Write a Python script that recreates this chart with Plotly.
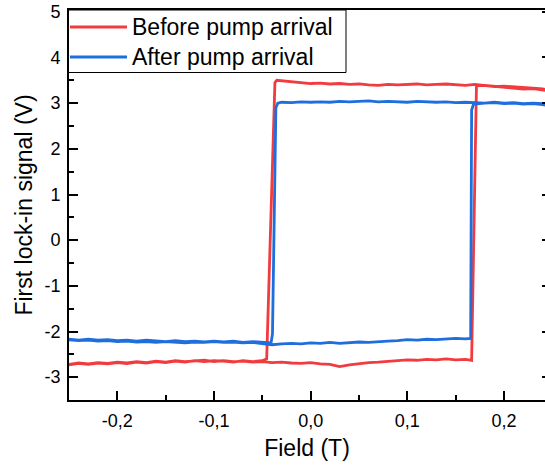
import plotly.graph_objects as go

# ---------------- data ----------------
# Red loop: "Before pump arrival"
RED_FIELD = [
    -0.25, -0.24, -0.23, -0.22, -0.21, -0.20, -0.19, -0.18, -0.17, -0.16,
    -0.15, -0.14, -0.13, -0.12, -0.11, -0.10, -0.09, -0.08, -0.07, -0.06,
    -0.05, -0.04, -0.03, -0.02, -0.01, 0.00, 0.01, 0.02, 0.03, 0.04,
    0.05, 0.06, 0.07, 0.08, 0.09, 0.10, 0.11, 0.12, 0.13, 0.14,
    0.15, 0.16, 0.1665, 0.1715,
    0.18, 0.19, 0.20, 0.21, 0.22, 0.23, 0.24, 0.2424,
    0.2424, 0.24, 0.23, 0.22, 0.21, 0.20, 0.19, 0.18, 0.17, 0.16,
    0.15, 0.14, 0.13, 0.12, 0.11, 0.10, 0.09, 0.08, 0.07, 0.06,
    0.05, 0.04, 0.03, 0.02, 0.01, 0.00, -0.01, -0.02, -0.03, -0.035,
    -0.037, -0.0455,
    -0.05, -0.06, -0.07, -0.08, -0.09, -0.10, -0.11, -0.12, -0.13, -0.14,
    -0.15, -0.16, -0.17, -0.18, -0.19, -0.20, -0.21, -0.22, -0.23, -0.24, -0.25,
]
RED_SIGNAL = [
    -2.72, -2.69, -2.71, -2.68, -2.70, -2.67, -2.69, -2.66, -2.68, -2.65,
    -2.67, -2.64, -2.66, -2.65, -2.63, -2.66, -2.64, -2.66, -2.65, -2.67,
    -2.66, -2.68, -2.67, -2.69, -2.70, -2.68, -2.71, -2.72, -2.77, -2.73,
    -2.70, -2.68, -2.67, -2.65, -2.64, -2.62, -2.63, -2.61, -2.62, -2.60,
    -2.62, -2.61, -2.63, 3.38,
    3.39, 3.37, 3.36, 3.34, 3.31, 3.32, 3.29, 3.28,
    3.30, 3.31, 3.33, 3.34, 3.35, 3.37, 3.36, 3.38, 3.41, 3.39,
    3.40, 3.42, 3.41, 3.40, 3.42, 3.41, 3.40, 3.41, 3.39, 3.40,
    3.42, 3.41, 3.43, 3.42, 3.44, 3.43, 3.45, 3.46, 3.49, 3.50,
    3.45, -2.60,
    -2.64, -2.66, -2.64, -2.67, -2.65, -2.64, -2.66, -2.64, -2.67, -2.65,
    -2.68, -2.66, -2.69, -2.67, -2.70, -2.68, -2.71, -2.69, -2.72, -2.70, -2.73,
]

# Blue loop: "After pump arrival"
BLUE_FIELD = [
    -0.25, -0.24, -0.23, -0.22, -0.21, -0.20, -0.19, -0.18, -0.17, -0.16,
    -0.15, -0.14, -0.13, -0.12, -0.11, -0.10, -0.09, -0.08, -0.07, -0.06,
    -0.05, -0.04, -0.03, -0.02, -0.01, 0.00, 0.01, 0.02, 0.03, 0.04,
    0.05, 0.06, 0.07, 0.08, 0.09, 0.10, 0.11, 0.12, 0.13, 0.14,
    0.15, 0.16, 0.1655, 0.1665, 0.1685,
    0.18, 0.19, 0.20, 0.21, 0.22, 0.23, 0.24, 0.2424,
    0.2424, 0.24, 0.23, 0.22, 0.21, 0.20, 0.19, 0.18, 0.17, 0.16,
    0.15, 0.14, 0.13, 0.12, 0.11, 0.10, 0.09, 0.08, 0.07, 0.06,
    0.05, 0.04, 0.03, 0.02, 0.01, 0.00, -0.01, -0.02, -0.03, -0.034,
    -0.036, -0.0395, -0.041,
    -0.05, -0.06, -0.07, -0.08, -0.09, -0.10, -0.11, -0.12, -0.13, -0.14,
    -0.15, -0.16, -0.17, -0.18, -0.19, -0.20, -0.21, -0.22, -0.23, -0.24, -0.25,
]
BLUE_SIGNAL = [
    -2.18, -2.20, -2.19, -2.21, -2.20, -2.22, -2.21, -2.23, -2.22, -2.24,
    -2.22, -2.23, -2.25, -2.23, -2.24, -2.22, -2.24, -2.23, -2.25, -2.24,
    -2.26, -2.29, -2.27, -2.26, -2.27, -2.25, -2.26, -2.24, -2.26, -2.25,
    -2.23, -2.24, -2.22, -2.21, -2.20, -2.18, -2.19, -2.17, -2.18, -2.16,
    -2.15, -2.16, -2.15, 2.85, 2.98,
    3.00, 3.01, 2.99, 3.00, 2.98, 2.99, 2.97, 2.96,
    2.98, 2.99, 3.00, 2.99, 3.01, 3.00, 3.02, 3.00, 3.01, 3.02,
    3.01, 3.03, 3.02, 3.03, 3.04, 3.02, 3.03, 3.04, 3.03, 3.05,
    3.04, 3.03, 3.04, 3.02, 3.03, 3.02, 3.03, 3.01, 3.02, 3.00,
    2.90, -2.05, -2.25,
    -2.24, -2.22, -2.24, -2.21, -2.23, -2.21, -2.23, -2.21, -2.22, -2.20,
    -2.22, -2.21, -2.19, -2.21, -2.19, -2.20, -2.18, -2.19, -2.17, -2.19, -2.17,
]

SERIES_NAMES = ["Before pump arrival", "After pump arrival"]
SERIES_COLORS = ["#F23B3F", "#1E6FDD"]

X_TICKS = [-0.2, -0.1, 0.0, 0.1, 0.2]
X_TICKTEXT = ["-0,2", "-0,1", "0,0", "0,1", "0,2"]
Y_TICKS = [-3, -2, -1, 0, 1, 2, 3, 4, 5]
Y_TICKTEXT = ["-3", "-2", "-1", "0", "1", "2", "3", "4", "5"]

FONT = "Arial, 'Liberation Sans', sans-serif"
X_RANGE = [-0.25, 0.2424]
Y_RANGE = [-3.5, 5.04]

fig = go.Figure()
fig.add_trace(go.Scatter(x=RED_FIELD, y=RED_SIGNAL, mode="lines", name=SERIES_NAMES[0],
                         line=dict(color=SERIES_COLORS[0], width=2.8)))
fig.add_trace(go.Scatter(x=BLUE_FIELD, y=BLUE_SIGNAL, mode="lines", name=SERIES_NAMES[1],
                         line=dict(color=SERIES_COLORS[1], width=2.8)))

axis_common = dict(
    showgrid=False, zeroline=False, showline=True, linecolor="black", linewidth=1.6,
    ticks="inside", tickcolor="black", tickwidth=1.6, ticklen=9,
    tickfont=dict(family=FONT, size=18, color="black"),
)

fig.update_xaxes(
    **axis_common, range=X_RANGE, mirror=True,
    tickmode="array", tickvals=X_TICKS, ticktext=X_TICKTEXT,
    minor=dict(ticks="inside", ticklen=5, tickwidth=1.6, tickcolor="black", dtick=0.05, tick0=0),
    title=dict(text="Field (T)", font=dict(family=FONT, size=23, color="black"), standoff=9),
    ticklabelstandoff=4,
)
fig.update_yaxes(
    **axis_common, range=Y_RANGE, mirror=False,
    tickmode="array", tickvals=Y_TICKS, ticktext=Y_TICKTEXT,
    minor=dict(ticks="inside", ticklen=5, tickwidth=1.6, tickcolor="black", dtick=0.5, tick0=0),
    title=dict(text="First lock-in signal (V)", font=dict(family=FONT, size=23, color="black"), standoff=6),
    ticklabelstandoff=3,
)

# right-side tick marks (the right frame line sits just outside the picture)
fig.update_layout(
    yaxis2=dict(overlaying="y", side="right", matches="y", showgrid=False, zeroline=False,
                showline=False, showticklabels=False, ticks="inside", ticklen=3,
                tickwidth=1.6, tickcolor="black", tickmode="array", tickvals=Y_TICKS,
                range=Y_RANGE),
)
fig.add_trace(go.Scatter(x=[None], y=[None], yaxis="y2", showlegend=False, hoverinfo="skip"))

# ---- boxed legend in the top-left corner (drawn in paper coordinates) ----
PLOT_L, PLOT_R, PLOT_T, PLOT_B = 69, 545, 10, 400
def px_x(p):
    return (p - PLOT_L) / (PLOT_R - PLOT_L)
def px_y(p):
    return (PLOT_B - p) / (PLOT_B - PLOT_T)

shapes = [dict(type="rect", xref="paper", yref="paper", layer="above",
               x0=px_x(68.5), x1=px_x(346), y0=px_y(72.5), y1=1,
               fillcolor="white", line=dict(color="black", width=1))]
annotations = []
for i, (name, color) in enumerate(zip(SERIES_NAMES, SERIES_COLORS)):
    ypix = 27 + 30 * i
    shapes.append(dict(type="line", xref="paper", yref="paper", layer="above",
                       x0=px_x(70), x1=px_x(127), y0=px_y(ypix), y1=px_y(ypix),
                       line=dict(color=color, width=3)))
    annotations.append(dict(text=name, xref="paper", yref="paper", showarrow=False,
                            x=px_x(130), y=px_y(ypix), xanchor="left", yanchor="middle",
                            font=dict(family=FONT, size=23, color="black")))

fig.update_layout(
    width=545, height=473,
    margin=dict(l=PLOT_L, r=0, t=PLOT_T, b=473 - PLOT_B),
    paper_bgcolor="white", plot_bgcolor="white",
    font=dict(family=FONT, color="black"),
    showlegend=False,
    shapes=shapes, annotations=annotations,
)

fig.write_html("out.html")
